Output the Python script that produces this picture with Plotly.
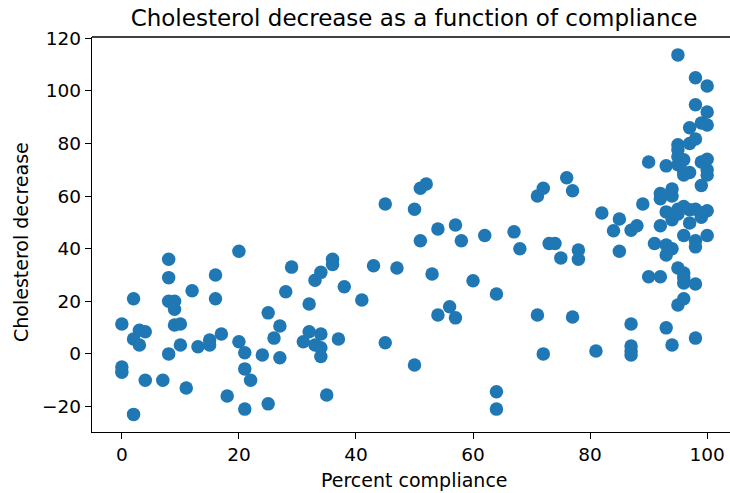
import plotly.graph_objects as go

compliance = [
    0, 0, 0, 2, 2, 2, 3, 3, 4, 4, 7, 8, 8, 8, 8, 9, 9, 9, 10, 10, 11, 12, 13, 15, 15,
    16, 16, 17, 18, 20, 20, 21, 21, 21, 22, 24, 25, 25, 26, 27, 27, 28, 29, 31, 32,
    32, 33, 33, 34, 34, 34, 34, 35, 36, 36, 37, 38, 41, 43, 45, 45, 47, 50, 50, 51,
    51, 52, 53, 54, 54, 56, 57, 57, 58, 60, 62, 64, 64, 64, 67, 68, 71, 71, 72, 72,
    73, 74, 75, 76, 77, 77, 78, 78, 81, 82, 84, 85, 85, 87, 87, 87, 87, 87, 88, 89,
    90, 90, 91, 92, 92, 92, 92, 93, 93, 93, 93, 93, 94, 94, 94, 94, 94, 95, 95, 95,
    95, 95, 95, 95, 95, 95, 96, 96, 96, 96, 96, 96, 96, 96, 96, 97, 97, 97, 97, 97,
    98, 98, 98, 98, 98, 98, 98, 98, 99, 99, 99, 99, 99, 100, 100, 100, 100, 100,
    100, 100, 100,
]
chol_decrease = [
    11.4, -5.0, -7.0, 21.0, -23.0, 5.7, 9.0, 3.4, 8.4, -10.0, -10.0, 36.0, 29.0, 20.0,
    0.0, 20.0, 17.0, 11.0, 11.4, 3.4, -13.0, 24.0, 2.7, 3.4, 5.3, 30.0, 21.0, 7.6,
    -16.0, 39.0, 4.6, 0.4, -5.7, -21.0, -10.0, -0.4, 15.6, -19.0, 6.0, 10.6, -1.5,
    23.6, 33.0, 4.6, 19.0, 8.4, 28.0, 3.4, 7.6, 2.3, -1.0, 31.0, -15.6, 36.0, 34.0,
    5.7, 25.5, 20.5, 33.5, 57.0, 4.2, 32.7, 55.0, -4.2, 63.0, 43.0, 64.6, 30.4, 47.5,
    14.8, 17.9, 13.7, 49.0, 43.0, 27.8, 45.0, 22.8, -14.4, -21.0, 46.4, 40.0, 60.0,
    14.8, 63.0, 0.0, 42.0, 42.0, 36.5, 67.0, 62.0, 14.0, 39.5, 36.0, 1.1, 53.6, 46.8,
    51.3, 39.0, 11.4, 3.0, 1.1, -0.4, 47.0, 48.7, 57.0, 73.0, 29.3, 42.0, 61.0, 59.0,
    48.7, 29.3, 71.5, 54.0, 41.4, 37.6, 9.9, 62.7, 60.0, 51.0, 40.0, 3.4, 113.7, 79.5,
    77.6, 75.0, 71.9, 55.0, 53.2, 32.7, 18.6, 73.8, 69.0, 68.0, 56.0, 45.0, 30.8, 29.0,
    27.0, 21.0, 86.0, 80.0, 69.0, 54.8, 49.8, 105.0, 94.7, 81.7, 55.0, 43.0, 40.7,
    26.6, 6.0, 87.8, 73.0, 64.0, 53.6, 52.0, 101.9, 92.0, 87.0, 74.0, 70.0, 68.0,
    54.4, 45.0,
]
x_ticks = [0, 20, 40, 60, 80, 100]
y_ticks = [-20, 0, 20, 40, 60, 80, 100, 120]

FONT = "DejaVu Sans"
W, H = 730, 493
L, R, T, B = 92, 0, 37, 61

fig = go.Figure(
    go.Scatter(
        x=compliance,
        y=chol_decrease,
        mode="markers",
        marker=dict(color="#1f77b4", size=13.5, line=dict(width=0)),
        hoverinfo="x+y",
    )
)

axis_common = dict(
    showgrid=False,
    zeroline=False,
    showline=True,
    linecolor="black",
    linewidth=1.3,
    ticks="outside",
    ticklen=6,
    tickwidth=1.3,
    tickcolor="black",
    automargin=False,
    tickfont=dict(family=FONT, size=18.5, color="black"),
)

fig.update_layout(
    width=W,
    height=H,
    margin=dict(l=L, r=R, t=T, b=B, autoexpand=False),
    paper_bgcolor="white",
    plot_bgcolor="white",
    showlegend=False,
    title=dict(
        text="Cholesterol decrease as a function of compliance",
        font=dict(family=FONT, size=23, color="black"),
        xref="container", x=414 / W, xanchor="center",
        yref="container", y=1 - 18 / H, yanchor="middle",
    ),
    xaxis=dict(range=[-5.1, 103.9], tickvals=x_ticks, **axis_common),
    yaxis=dict(range=[-29.7, 120.5], tickvals=y_ticks, **axis_common),
    shapes=[
        dict(type="line", xref="paper", yref="paper", x0=0, x1=1, y0=1, y1=1,
             line=dict(color="black", width=1.3)),
    ],
    annotations=[
        dict(text="Percent compliance", xref="paper", yref="paper",
             x=(414 - L) / (W - L - R), y=-(480 - (H - B)) / (H - T - B),
             xanchor="center", yanchor="middle", showarrow=False,
             font=dict(family=FONT, size=19, color="black")),
        dict(text="Cholesterol decrease", xref="paper", yref="paper",
             x=-(L - 21) / (W - L - R), y=1 - (242 - T) / (H - T - B),
             xanchor="center", yanchor="middle", showarrow=False, textangle=-90,
             font=dict(family=FONT, size=19, color="black")),
    ],
)

fig.write_html(
    "out.html",
    config={"displayModeBar": False},
    post_script="document.body.style.margin='0';document.body.style.overflow='hidden';",
)
